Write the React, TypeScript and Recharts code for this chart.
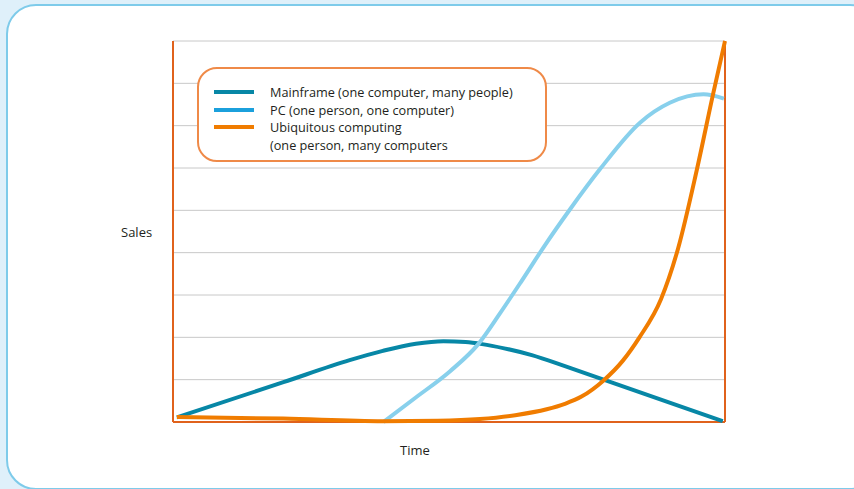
import React from "react"
import { LineChart, Line, XAxis, YAxis, CartesianGrid, ReferenceLine } from "recharts"

// time runs 0..100, sales 0..9 (one unit per grid step)
const gridTicks = [0, 1, 2, 3, 4, 5, 6, 7, 8, 9]

const mainframe = [
  { t: 0.7, v: 0.11 },
  { t: 20, v: 0.94 },
  { t: 32, v: 1.46 },
  { t: 38, v: 1.68 },
  { t: 44, v: 1.85 },
  { t: 49, v: 1.91 },
  { t: 53, v: 1.89 },
  { t: 56, v: 1.84 },
  { t: 60, v: 1.74 },
  { t: 65, v: 1.58 },
  { t: 71, v: 1.32 },
  { t: 78, v: 1.0 },
  { t: 99.6, v: 0.02 },
]

const pc = [
  { t: 38.1, v: 0 },
  { t: 44.1, v: 0.59 },
  { t: 50.2, v: 1.2 },
  { t: 55.3, v: 1.84 },
  { t: 59.2, v: 2.56 },
  { t: 63, v: 3.3 },
  { t: 67.4, v: 4.18 },
  { t: 71.9, v: 5.02 },
  { t: 77.4, v: 5.98 },
  { t: 84.6, v: 7.07 },
  { t: 90, v: 7.54 },
  { t: 96.1, v: 7.74 },
  { t: 99.8, v: 7.64 },
]

const ubiquitous = [
  { t: 0.7, v: 0.12 },
  { t: 20, v: 0.08 },
  { t: 38, v: 0.02 },
  { t: 48, v: 0.03 },
  { t: 55.6, v: 0.07 },
  { t: 62, v: 0.16 },
  { t: 67.7, v: 0.3 },
  { t: 71, v: 0.43 },
  { t: 74, v: 0.6 },
  { t: 77.9, v: 0.97 },
  { t: 81.5, v: 1.45 },
  { t: 84.5, v: 2.0 },
  { t: 88.4, v: 2.9 },
  { t: 91.5, v: 4.1 },
  { t: 94.9, v: 5.96 },
  { t: 97.9, v: 7.78 },
  { t: 100, v: 9 },
]

const legendItems = [
  { label: "Mainframe (one computer, many people)", color: "#0787a6" },
  { label: "PC (one person, one computer)", color: "#1ba0dc" },
  { label: "Ubiquitous computing", color: "#f07c00" },
  { label: "(one person, many computers", color: null },
]

const axisColor = "#e0621c"
const font = "'Open Sans', 'Noto Sans', sans-serif"

function LegendBox() {
  return (
    <div
      style={{
        position: "absolute",
        left: 197,
        top: 67,
        width: 346,
        height: 91,
        border: "2px solid #ef8a48",
        borderRadius: 20,
        background: "#fff",
      }}
    >
      <div style={{ paddingTop: 14 }}>
        {legendItems.map((it) => (
          <div key={it.label} style={{ display: "flex", alignItems: "center", height: 17.7 }}>
            <div style={{ width: 15 }} />
            <div style={{ width: 40, height: 4, background: it.color ?? "transparent" }} />
            <div style={{ width: 16 }} />
            <span style={{ fontFamily: font, fontSize: 12.7, color: "#231f20", whiteSpace: "nowrap" }}>{it.label}</span>
          </div>
        ))}
      </div>
    </div>
  )
}

const noTick = () => <g />

export default function App() {
  return (
    <div
      style={{
        position: "fixed",
        left: 0,
        top: 0,
        width: 854,
        height: 489,
        background: "#dff0fa",
        overflow: "hidden",
      }}
    >
      <div
        style={{
          position: "absolute",
          left: 6,
          top: 4,
          width: 870,
          height: 482,
          background: "#fff",
          border: "2px solid #7ecbea",
          borderRadius: 30,
        }}
      />
      <div style={{ position: "absolute", left: 0, top: 0 }}>
        <LineChart width={854} height={489} margin={{ top: 41, right: 129, bottom: 67, left: 173 }}>
          <CartesianGrid vertical={false} stroke="#c8c8c8" strokeWidth={1} />
          <XAxis
            type="number"
            dataKey="t"
            domain={[0, 100]}
            height={0}
            tick={noTick}
            tickLine={false}
            axisLine={false}
          />
          <YAxis
            type="number"
            domain={[0, 9]}
            ticks={gridTicks}
            interval={0}
            width={0}
            tick={noTick}
            tickSize={2}
            tickLine={{ stroke: "#c8c8c8" }}
            axisLine={false}
          />
          <ReferenceLine x={0} stroke={axisColor} strokeWidth={2} />
          <ReferenceLine x={100} stroke={axisColor} strokeWidth={2} />
          <ReferenceLine y={0} stroke={axisColor} strokeWidth={2} />
          <Line data={mainframe} dataKey="v" type="monotone" stroke="#0787a6" strokeWidth={4} dot={false} isAnimationActive={false} />
          <Line data={pc} dataKey="v" type="monotone" stroke="#88d0ec" strokeWidth={4} dot={false} isAnimationActive={false} />
          <Line data={ubiquitous} dataKey="v" type="monotone" stroke="#f07c00" strokeWidth={4} dot={false} isAnimationActive={false} />
        </LineChart>
      </div>
      <LegendBox />
      <div style={{ position: "absolute", left: 121, top: 223, fontFamily: font, fontSize: 13, color: "#231f20" }}>
        Sales
      </div>
      <div style={{ position: "absolute", left: 400, top: 441, fontFamily: font, fontSize: 13, color: "#231f20" }}>
        Time
      </div>
    </div>
  )
}
